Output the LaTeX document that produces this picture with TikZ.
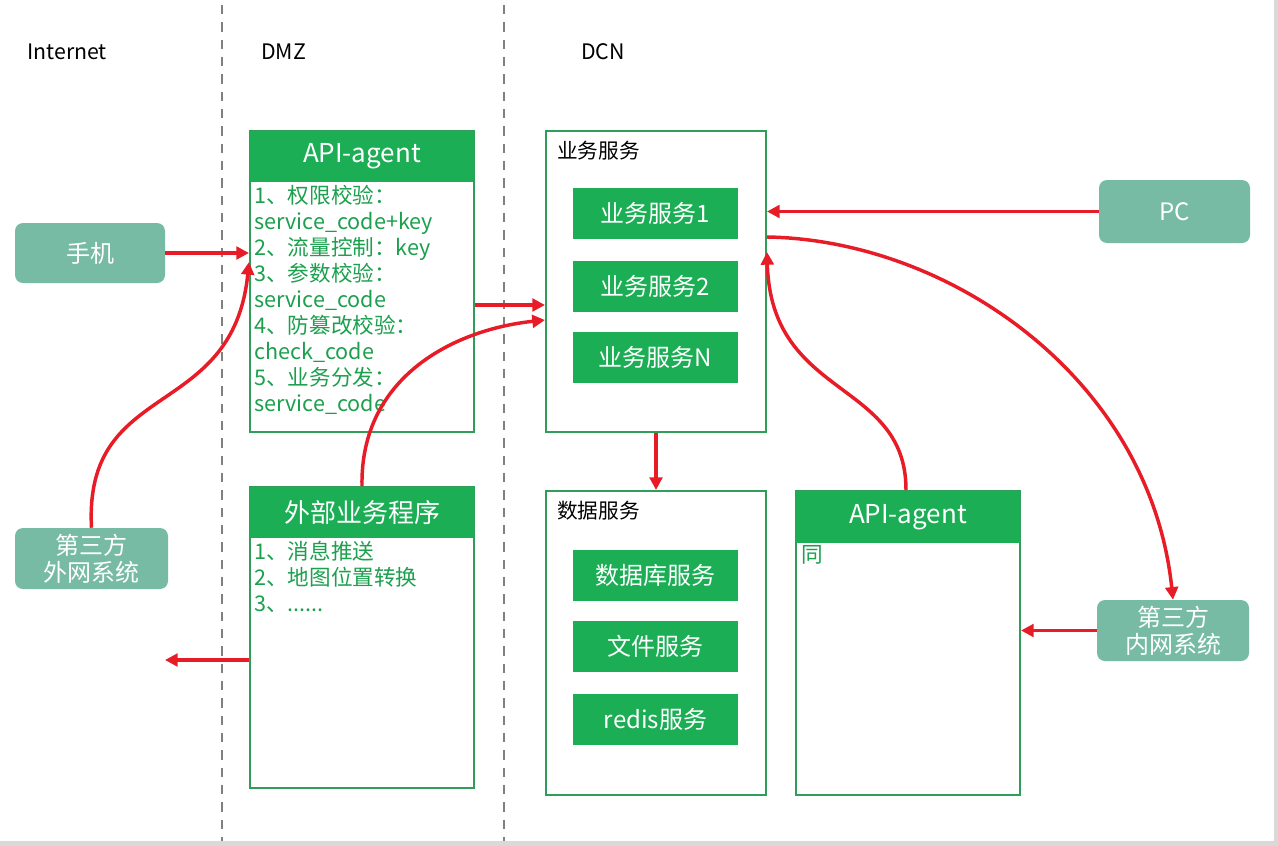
\documentclass[tikz,border=0pt]{standalone}
\usepackage{fontspec}
\setmainfont{Noto Sans CJK SC}
\usetikzlibrary{arrows.meta,calc}

\definecolor{hdgreen}{RGB}{27,174,85}
\definecolor{lngreen}{RGB}{46,158,88}
\definecolor{txgreen}{RGB}{28,160,78}
\definecolor{systeal}{RGB}{119,187,165}
\definecolor{linkred}{RGB}{232,28,38}
\definecolor{zonegray}{RGB}{128,128,128}

\tikzset{
  zone/.style={anchor=west, inner sep=0pt, font=\fontsize{16}{19}\selectfont},
  sysbox/.style 2 args={fill=systeal, rounded corners=6pt, text=white,
    minimum width=#1*0.75pt, minimum height=#2*0.75pt, align=center,
    font=\fontsize{18}{20}\selectfont},
  outerbox/.style 2 args={draw=lngreen, line width=1.5pt,
    minimum width=#1*0.75pt, minimum height=#2*0.75pt},
  headbox/.style={fill=hdgreen, text=white, minimum width=224*0.75pt,
    minimum height=51*0.75pt, font=\fontsize{19.5}{22}\selectfont},
  svcbox/.style={fill=hdgreen, text=white, minimum width=165*0.75pt,
    minimum height=51*0.75pt, font=\fontsize{18}{21}\selectfont},
  bodytext/.style={anchor=north west, inner sep=0pt, align=left, text=txgreen,
    font=\fontsize{16.2}{19.5}\selectfont},
  grouplabel/.style={anchor=west, inner sep=0pt, font=\fontsize{15.5}{18}\selectfont},
  link/.style={draw=linkred, line width=2.6pt, -{Triangle[length=9.5pt,width=9.5pt]}},
}

\begin{document}
\begin{tikzpicture}[x=0.75pt, y=-0.75pt]
  \useasboundingbox (0,0) rectangle (1278,846);
  \fill[white] (0,0) rectangle (1278,846);
  \fill[black!15] (1274,0) rectangle (1278,846);
  \fill[black!15] (0,841) rectangle (1278,846);

  % zones
  \draw[zonegray, line width=1.1pt, dash pattern=on 7pt off 6pt] (222,5) -- (222,841);
  \draw[zonegray, line width=1.1pt, dash pattern=on 7pt off 6pt] (504,5) -- (504,841);
  \node[zone] (internet) at (27,52) {Internet};
  \node[zone] (dmz) at (261,52) {DMZ};
  \node[zone] (dcn) at (581,52) {DCN};

  % outside systems
  \node[sysbox={150}{60}] (phone) at (90,253) {手机};
  \node[sysbox={153}{61}] (extsys) at (91.5,558.5) {第三方\\外网系统};
  \node[sysbox={151}{63}] (pc) at (1174.5,211.5) {PC};
  \node[sysbox={152}{61}] (intsys) at (1173,630.5) {第三方\\内网系统};

  % DMZ
  \node[outerbox={224}{301}] (agentA) at (362,281.5) {};
  \node[headbox] (agentAhead) at (362,156.5) {API-agent};
  \node[bodytext] (agentAtext) at (254,185) {1、权限校验：\\service\_code+key\\2、流量控制：key\\3、参数校验：\\service\_code\\4、防篡改校验：\\check\_code\\5、业务分发：\\service\_code};

  \node[outerbox={224}{301}] (ext) at (362,637.5) {};
  \node[headbox] (exthead) at (362,512.5) {外部业务程序};
  \node[bodytext] (exttext) at (254,541) {1、消息推送\\2、地图位置转换\\3、......};
  \coordinate (extout) at (165,660);

  % DCN
  \node[outerbox={220}{301}] (biz) at (656,281.5) {};
  \node[grouplabel] (bizlabel) at (557,151) {业务服务};
  \node[svcbox] (biz1) at (655.5,213.5) {业务服务1};
  \node[svcbox] (biz2) at (655.5,286) {业务服务2};
  \node[svcbox] (bizn) at (655.5,357.5) {业务服务N};

  \node[outerbox={220}{304}] (data) at (656,643) {};
  \node[grouplabel] (datalabel) at (557,511) {数据服务};
  \node[svcbox] (db) at (655.5,575.5) {数据库服务};
  \node[svcbox] (file) at (655.5,646) {文件服务};
  \node[svcbox] (redis) at (655.5,719.5) {redis服务};

  \node[outerbox={224}{304}] (agentB) at (908,643) {};
  \node[headbox, minimum height=52*0.75pt] (agentBhead) at (908,517) {API-agent};
  \node[bodytext] (agentBtext) at (801,545) {同};

  % connectors
  \draw[link] (phone.east) -- (agentA.west |- phone.east);
  \draw[link] (extsys.north) .. controls +(-8,-150) and +(-16,160) .. ($(agentA.west)+(0,-19.5)$);
  \draw[link] ($(agentA.east)+(0,23.5)$) -- ($(biz.west)+(0,23.5)$);
  \draw[link] (ext.north) .. controls +(-2,-107) and +(-94,10) .. ($(biz.west)+(0,38.5)$);
  \draw[link] (ext.west |- extout) -- (extout);
  \draw[link] (pc.west) -- (biz.east |- pc.west);
  \draw[link] ($(biz.east)+(0,-44.5)$) .. controls +(184,3) and +(-23,-220) .. (intsys.north);
  \draw[link] (intsys.west) -- (agentB.east |- intsys.west);
  \draw[link] ($(agentB.north)+(-2,0)$) .. controls +(0,-111) and +(4,148) .. ($(biz.east)+(0,-29.5)$);
  \draw[link] (biz.south) -- (data.north);
\end{tikzpicture}
\end{document}
